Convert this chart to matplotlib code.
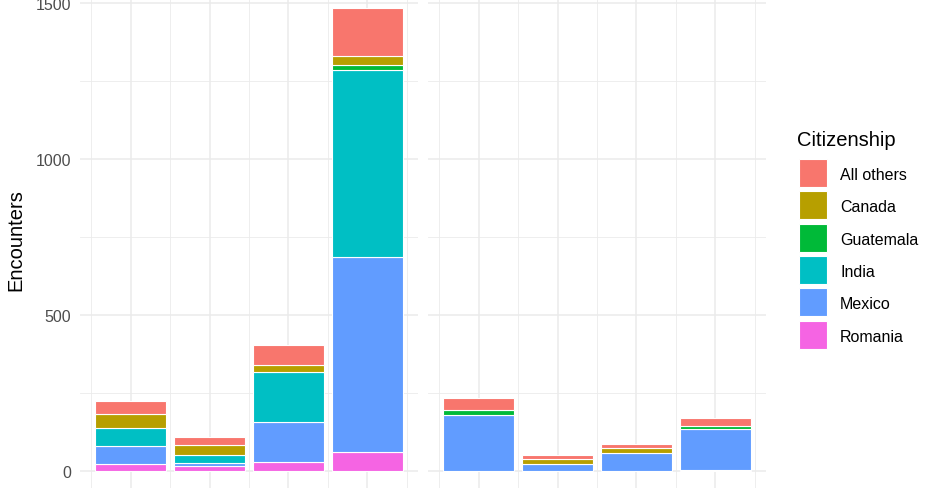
import numpy as np
import matplotlib
matplotlib.use("Agg")
import matplotlib.pyplot as plt
from matplotlib.patches import Rectangle

plt.rcParams["font.family"] = ["Liberation Sans", "DejaVu Sans"]

# stacking order, bottom to top (legend shows it reversed)
citizenship = ["Romania", "Mexico", "India", "Guatemala", "Canada", "All others"]
colors = {
    "All others": "#F8766D",
    "Canada": "#B79F00",
    "Guatemala": "#00BA38",
    "India": "#00BFC4",
    "Mexico": "#619CFF",
    "Romania": "#F564E3",
}

# x positions of the bars inside each facet (tick labels are cut off in the source)
periods = [1, 2, 3, 4]

# left facet
left_romania = [22, 15, 28, 61]
left_mexico = [57, 11, 128, 625]
left_india = [60, 26, 161, 598]
left_guatemala = [0, 0, 0, 17]
left_canada = [43, 31, 22, 29]
left_others = [41, 26, 65, 155]

# right facet
right_romania = [0, 0, 0, 4]
right_mexico = [180, 24, 57, 131]
right_india = [0, 0, 0, 0]
right_guatemala = [16, 0, 0, 9]
right_canada = [0, 14, 16, 0]
right_others = [37, 12, 12, 27]

y_ticks = [0, 500, 1000, 1500]

left = [left_romania, left_mexico, left_india, left_guatemala, left_canada, left_others]
right = [right_romania, right_mexico, right_india, right_guatemala, right_canada, right_others]

W, H = 940, 489
fig = plt.figure(figsize=(W / 100, H / 100), dpi=100)

# y scale: ggplot-style 5% expansion around 0..max total
ymax_data = max(np.sum(left, axis=0).max(), np.sum(right, axis=0).max())
ylo, yhi = -0.05 * ymax_data, ymax_data * 1.05
# pixel placement: zero at y=472, 500 units = 156 px
px_per_unit = 156 / 500
top_px = 472 - yhi * px_per_unit
bot_px = 472 - ylo * px_per_unit
ax_b = (H - bot_px) / H
ax_h = (bot_px - top_px) / H

panels = [(80, left), (428, right)]
axes = []
for x0, data in panels:
    ax = fig.add_axes([x0 / W, ax_b, 338 / W, ax_h])
    bottom = np.zeros(len(periods))
    for name, vals in zip(citizenship, data):
        vals = np.array(vals, dtype=float)
        keep = vals > 0
        ax.bar(np.array(periods)[keep], vals[keep], bottom=bottom[keep], width=0.9,
               color=colors[name], edgecolor="white", linewidth=0.8, zorder=3)
        bottom += vals
    ax.set_xlim(0.355, 4.645)
    ax.set_ylim(ylo, yhi)
    ax.set_xticks(periods)
    ax.set_xticks([0.5, 1.5, 2.5, 3.5, 4.5], minor=True)
    ax.set_yticks(y_ticks)
    ax.set_yticks([250, 750, 1250], minor=True)
    ax.grid(which="major", color="#EBEBEB", linewidth=1.1, zorder=0)
    ax.grid(which="minor", color="#EBEBEB", linewidth=0.6, zorder=0)
    for s in ax.spines.values():
        s.set_visible(False)
    ax.tick_params(which="both", length=0)
    ax.set_xticklabels([])
    ax.set_facecolor("white")
    axes.append(ax)

axes[0].set_yticklabels([str(t) for t in y_ticks], color="#4D4D4D", fontsize=11.5)
axes[0].tick_params(axis="y", pad=6.5)
axes[1].set_yticklabels([])
axes[0].set_ylabel("Encounters", fontsize=14.5, labelpad=7)

# legend drawn by hand so the keys come out as ggplot's 28px squares
def fx(px):
    return px / W

def fy(py):
    return (H - py) / H

fig.text(fx(797), fy(146), "Citizenship", fontsize=14.5, ha="left", va="baseline")
key, pitch, key_top = 28, 32.3, 160
for i, name in enumerate(citizenship[::-1]):
    top = key_top + i * pitch
    fig.patches.append(Rectangle((fx(799), fy(top + key)), fx(key), key / H,
                                 transform=fig.transFigure, facecolor=colors[name],
                                 edgecolor="white", linewidth=0.8))
    fig.text(fx(840), fy(top + key / 2), name, fontsize=11.5, ha="left", va="center_baseline")

fig.savefig("out.png", dpi=100)
